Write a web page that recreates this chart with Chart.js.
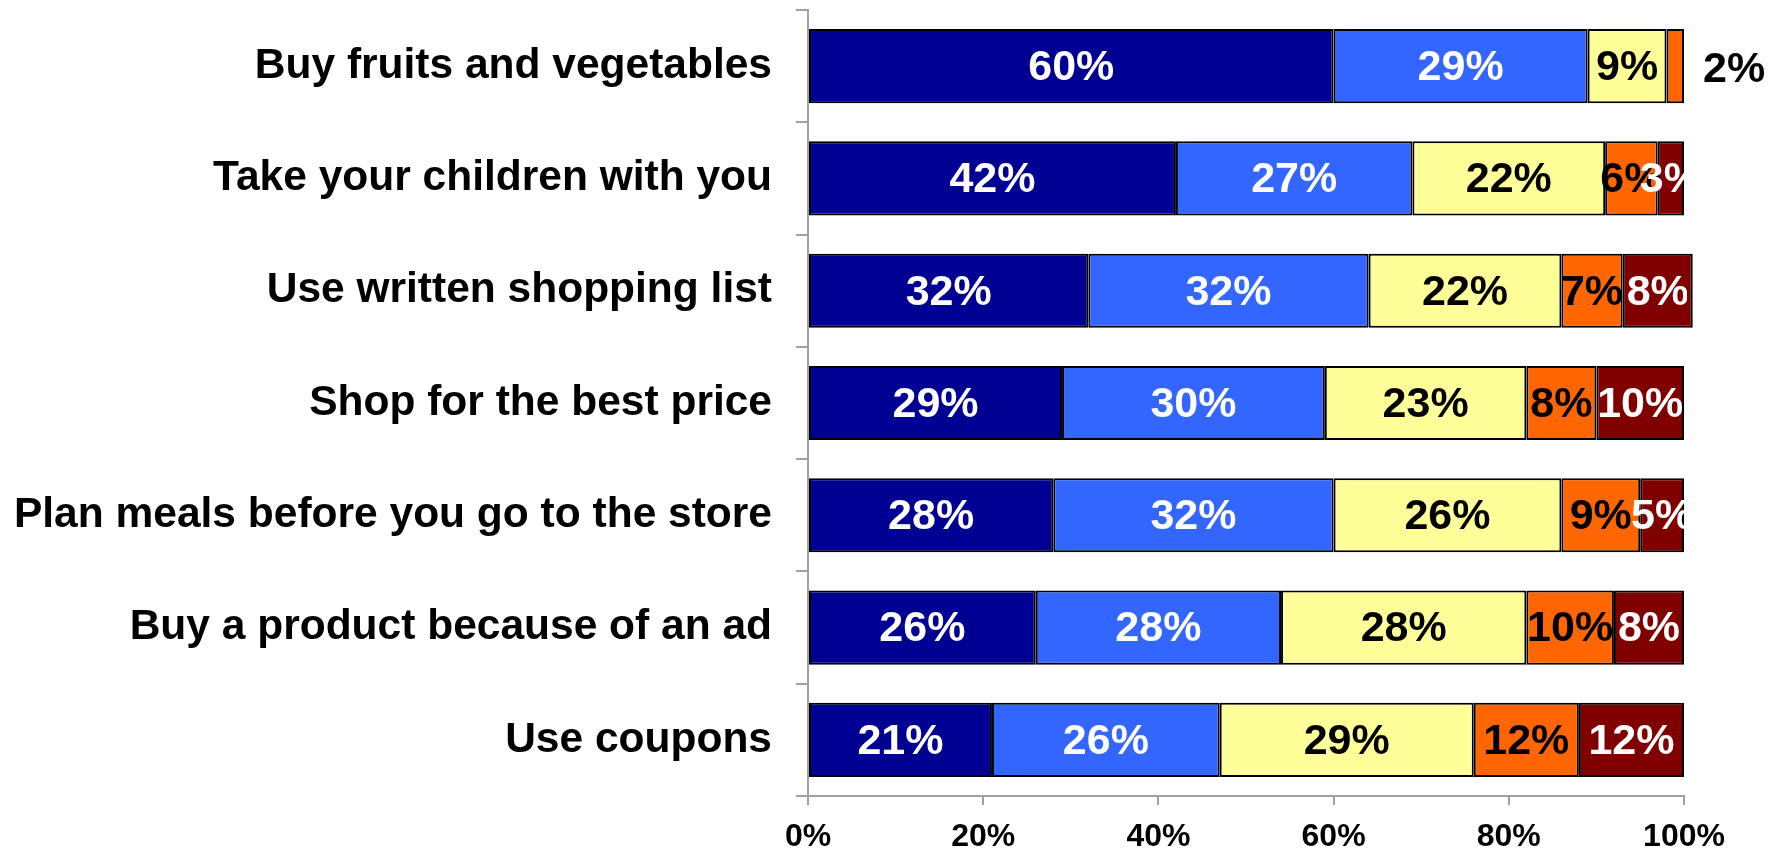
<!DOCTYPE html>
<html>
<head>
<meta charset="utf-8">
<script src="https://cdn.jsdelivr.net/npm/chart.js@4/dist/chart.umd.min.js"></script>
<style>
  html, body { margin: 0; padding: 0; background: #ffffff; }
  #wrap { width: 1780px; height: 848px; }
</style>
</head>
<body>
<div id="wrap"><canvas id="c" width="1780" height="848"></canvas></div>
<script>
// Shopping habits, share of respondents by how often they do each activity
const categories = [
  'Buy fruits and vegetables',
  'Take your children with you',
  'Use written shopping list',
  'Shop for the best price',
  'Plan meals before you go to the store',
  'Buy a product because of an ad',
  'Use coupons'
];
const always    = [60, 42, 32, 29, 28, 26, 21];
const usually   = [29, 27, 32, 30, 32, 28, 26];
const sometimes = [ 9, 22, 22, 23, 26, 28, 29];
const seldom    = [ 2,  6,  7,  8,  9, 10, 12];
const never     = [ 0,  3,  8, 10,  5,  8, 12];
const xTicks    = [0, 20, 40, 60, 80, 100];

const FONT = "'Liberation Sans', Arial, sans-serif";

const seriesDefs = [
  { label: 'Always',    data: always,    bg: '#000092', text: '#ffffff' },
  { label: 'Usually',   data: usually,   bg: '#3366ff', text: '#ffffff' },
  { label: 'Sometimes', data: sometimes, bg: '#ffff99', text: '#000000' },
  { label: 'Seldom',    data: seldom,    bg: '#ff6600', text: '#000000' },
  { label: 'Never',     data: never,     bg: '#800000', text: '#ffffff' }
];

// Percentage labels inside each segment; the narrow orange segment of the
// first row gets its label set beside the bar instead.
const segmentLabels = {
  id: 'segmentLabels',
  afterDatasetsDraw(chart) {
    const { ctx, chartArea } = chart;
    ctx.save();
    ctx.font = 'bold 43px ' + FONT;
    ctx.textBaseline = 'middle';
    chart.data.datasets.forEach((ds, di) => {
      const meta = chart.getDatasetMeta(di);
      meta.data.forEach((bar, i) => {
        const v = ds.data[i];
        if (!v) return;
        const txt = v + '%';
        if (di === 3 && i === 0) {
          ctx.fillStyle = '#000000';
          ctx.textAlign = 'left';
          ctx.fillText(txt, bar.x + 19, bar.y + 4);
          return;
        }
        ctx.save();
        ctx.beginPath();
        ctx.rect(chartArea.left, chartArea.top, chartArea.right + 3 - chartArea.left, chartArea.bottom - chartArea.top);
        ctx.clip();
        ctx.fillStyle = ds.textColor;
        ctx.textAlign = 'center';
        const c = bar.getCenterPoint();
        ctx.fillText(txt, c.x, c.y + 2);
        ctx.restore();
      });
    });
    ctx.restore();
  }
};

new Chart(document.getElementById('c'), {
  type: 'bar',
  data: {
    labels: categories,
    datasets: seriesDefs.map(s => ({
      label: s.label,
      data: s.data,
      backgroundColor: s.bg,
      borderColor: '#000000',
      borderWidth: 2,
      borderSkipped: false,
      textColor: s.text,
      categoryPercentage: 1,
      barPercentage: 0.66,
      clip: false
    }))
  },
  options: {
    indexAxis: 'y',
    responsive: false,
    animation: false,
    devicePixelRatio: 1,
    layout: { padding: { top: 10, right: 96, left: 0, bottom: 0 } },
    plugins: { legend: { display: false }, tooltip: { enabled: false } },
    scales: {
      x: {
        stacked: true,
        min: 0,
        max: 100,
        afterBuildTicks(scale) { scale.ticks = xTicks.map(v => ({ value: v })); },
        afterFit(scale) { scale.height = 52; scale.paddingLeft = 0; scale.paddingRight = 0; },
        grid: { drawOnChartArea: false, drawTicks: true, tickLength: 9, color: '#a0a0a0', lineWidth: 2 },
        border: { display: true, color: '#a0a0a0', width: 2 },
        ticks: {
          color: '#000000',
          padding: 13,
          font: { family: FONT, size: 32, weight: 'bold' },
          callback: v => v + '%'
        }
      },
      y: {
        stacked: true,
        afterFit(scale) { scale.width = 808; scale.paddingTop = 0; scale.paddingBottom = 0; },
        grid: { drawOnChartArea: false, drawTicks: true, tickLength: 12, color: '#a0a0a0', lineWidth: 2, offset: true },
        border: { display: true, color: '#a0a0a0', width: 2 },
        ticks: {
          color: '#000000',
          padding: 24,
          font: { family: FONT, size: 42.5, weight: 'bold' }
        }
      }
    }
  },
  plugins: [segmentLabels]
});
</script>
</body>
</html>
